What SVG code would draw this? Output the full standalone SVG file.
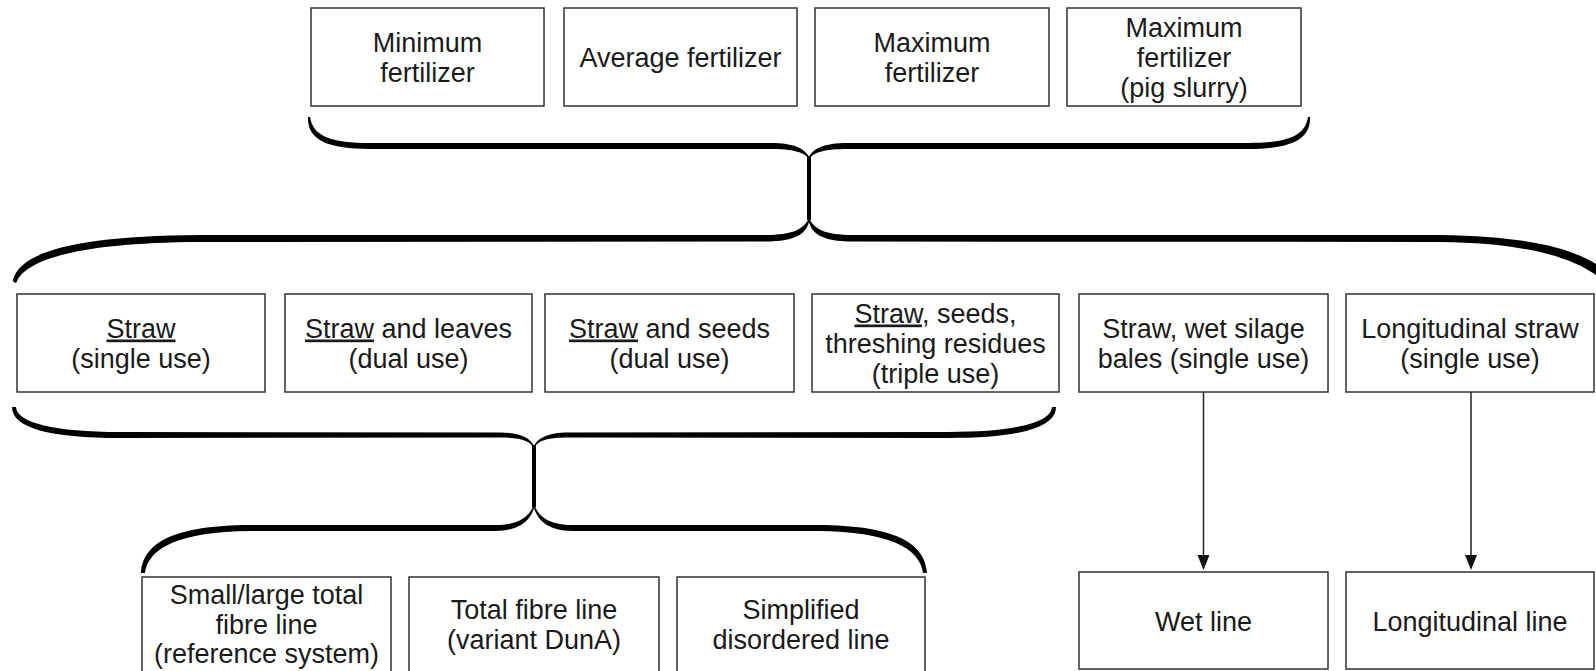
<svg xmlns="http://www.w3.org/2000/svg" width="1596" height="671" viewBox="0 0 1596 671">
<style>
.box{fill:#fff;stroke:#333;stroke-width:1.5}
.t{font-family:"Liberation Sans",Arial,Helvetica,sans-serif;font-size:27px;fill:#1a1a1a;text-anchor:middle}
.u{text-decoration:underline}
.br{fill:#000;stroke:none}
.ln{stroke:#222;stroke-width:1.5;fill:none}
</style>
<defs>
<marker id="ah" markerWidth="12" markerHeight="15" refX="6" refY="15" orient="auto-start-reverse" markerUnits="userSpaceOnUse" viewBox="0 0 12 15">
<path d="M0,0 L12,0 L6,15 Z" fill="#111" transform="rotate(0)"/>
</marker>
</defs>
<rect width="1596" height="671" fill="#fff"/>

<g id="min-fert"><rect class="box" x="311" y="8" width="233" height="98"/><text class="t" x="427.5" y="51.5">Minimum</text><text class="t" x="427.5" y="81.5">fertilizer</text></g>
<g id="avg-fert"><rect class="box" x="564" y="8" width="233" height="98"/><text class="t" x="680.5" y="66.5">Average fertilizer</text></g>
<g id="max-fert"><rect class="box" x="815" y="8" width="234" height="98"/><text class="t" x="932" y="51.5">Maximum</text><text class="t" x="932" y="81.5">fertilizer</text></g>
<g id="max-fert-pig"><rect class="box" x="1067" y="8" width="234" height="98"/><text class="t" x="1184" y="36.5">Maximum</text><text class="t" x="1184" y="66.5">fertilizer</text><text class="t" x="1184" y="96.5">(pig slurry)</text></g>

<g id="straw-single"><rect class="box" x="17" y="294" width="248" height="98"/><text class="t" x="141" y="337.5"><tspan class="u">Straw</tspan></text><text class="t" x="141" y="367.5">(single use)</text></g>
<g id="straw-leaves"><rect class="box" x="285" y="294" width="247" height="98"/><text class="t" x="408.5" y="337.5"><tspan class="u">Straw</tspan> and leaves</text><text class="t" x="408.5" y="367.5">(dual use)</text></g>
<g id="straw-seeds"><rect class="box" x="545" y="294" width="249" height="98"/><text class="t" x="669.5" y="337.5"><tspan class="u">Straw</tspan> and seeds</text><text class="t" x="669.5" y="367.5">(dual use)</text></g>
<g id="straw-triple"><rect class="box" x="812" y="294" width="247" height="98"/><text class="t" x="935.5" y="322.5"><tspan class="u">Straw</tspan>, seeds,</text><text class="t" x="935.5" y="352.5">threshing residues</text><text class="t" x="935.5" y="382.5">(triple use)</text></g>
<g id="straw-wet"><rect class="box" x="1079" y="294" width="249" height="98"/><text class="t" x="1203.5" y="337.5">Straw, wet silage</text><text class="t" x="1203.5" y="367.5">bales (single use)</text></g>
<g id="long-straw"><rect class="box" x="1346" y="294" width="248" height="98"/><text class="t" x="1470" y="337.5">Longitudinal straw</text><text class="t" x="1470" y="367.5">(single use)</text></g>

<g id="total-fibre"><rect class="box" x="142" y="577" width="249" height="100"/><text class="t" x="266.5" y="604">Small/large total</text><text class="t" x="266.5" y="633.5">fibre line</text><text class="t" x="266.5" y="663">(reference system)</text></g>
<g id="total-fibre-duna"><rect class="box" x="409" y="577" width="250" height="100"/><text class="t" x="534" y="619">Total fibre line</text><text class="t" x="534" y="649">(variant DunA)</text></g>
<g id="simplified"><rect class="box" x="677" y="577" width="248" height="100"/><text class="t" x="801" y="619">Simplified</text><text class="t" x="801" y="649">disordered line</text></g>
<g id="wet-line"><rect class="box" x="1079" y="572" width="249" height="97"/><text class="t" x="1203.5" y="631">Wet line</text></g>
<g id="long-line"><rect class="box" x="1346" y="572" width="248" height="97"/><text class="t" x="1470" y="631">Longitudinal line</text></g>

<g id="connectors">
<path class="br" d="M308,117 C307,140 328,149 370,149 L770,149 C793,149 804,152 809,159 L809,157 C805,149 795,143 770,143 L370,143 C333,143 313,137 310,117 Z"/>
<path class="br" d="M1310,117 C1311,140 1290,149 1248,149 L848,149 C825,149 814,152 809,159 L809,157 C813,149 823,143 848,143 L1248,143 C1285,143 1305,137 1308,117 Z"/>
<rect class="br" x="807" y="156" width="4" height="64"/>
<path class="br" d="M809,218 C804,229 793,235 765,235 L200,235 C75,236 20,252 13,280 C13,283 17,284 17,281 C28,258 85,242.5 200,242 L765,241.5 C797,241.5 806,233 809,222 Z"/>
<path class="br" d="M809,218 C814,229 825,235 853,235 L1440,235 C1545,236.5 1595,254 1616,282 L1612,290 C1590,262 1538,243 1440,242 L853,241.5 C821,241.5 812,233 809,222 Z"/>
<path class="br" d="M12,407 C12,428 50,438 120,438 L500,437.5 C522,437.5 530,441 534,448 L534,446 C530,438 520,432.5 500,432.5 L120,432 C55,432 17,423 16,407 Z"/>
<path class="br" d="M1056,407 C1056,428 1018,438 948,438 L568,437.5 C546,437.5 538,441 534,448 L534,446 C538,438 548,432.5 568,432.5 L948,432 C1013,432 1051,423 1052,407 Z"/>
<rect class="br" x="532" y="445" width="4" height="62"/>
<path class="br" d="M534,504 C530,516 520,525 495,525 L250,525 C175,525.5 143,542 141,573 L145,573 C148,548 180,531.5 250,531 L495,531 C522,531 531,518 534,508 Z"/>
<path class="br" d="M534,504 C538,516 548,525 573,525 L818,525 C893,525.5 925,542 927,573 L923,573 C920,548 888,531.5 818,531 L573,531 C546,531 537,518 534,508 Z"/>
<line class="ln" x1="1203.5" y1="392" x2="1203.5" y2="556"/>
<path d="M1197.5,555 L1209.5,555 L1203.5,570 Z" fill="#111"/>
<line class="ln" x1="1471" y1="392" x2="1471" y2="556"/>
<path d="M1465,555 L1477,555 L1471,570 Z" fill="#111"/>
</g>
</svg>
